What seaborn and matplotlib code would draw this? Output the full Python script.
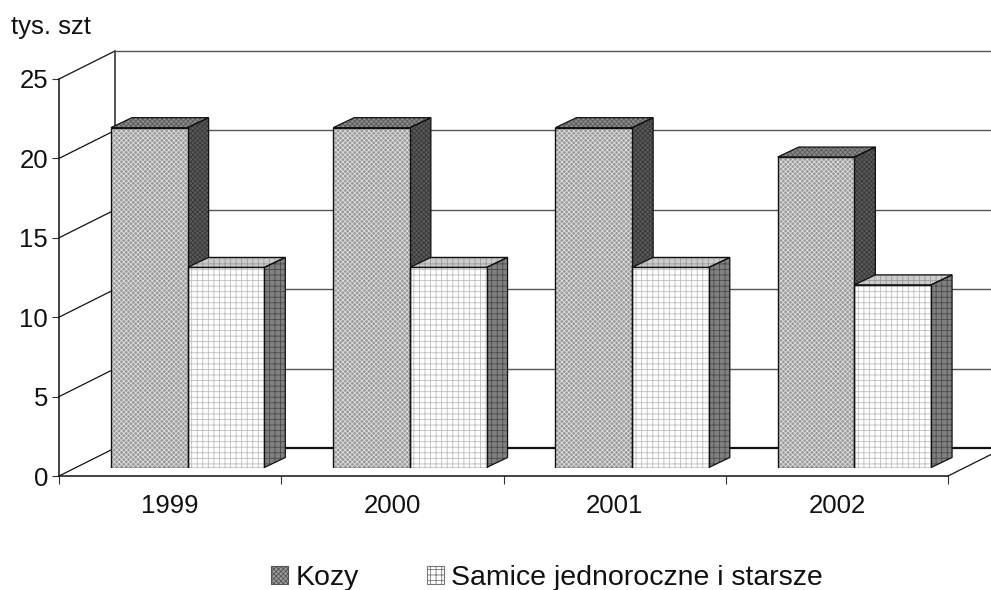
import numpy as np
import pandas as pd
import seaborn as sns
from matplotlib import pyplot as plt
from matplotlib.patches import Patch, Polygon, Rectangle
from matplotlib.transforms import IdentityTransform, ScaledTranslation

lata = ["1999", "2000", "2001", "2002"]
kozy = [21.4, 21.4, 21.4, 19.55]
samice = [12.6, 12.6, 12.6, 11.5]
y_ticks = [0, 5, 10, 15, 20, 25]
serie = ["Kozy", "Samice jednoroczne i starsze"]

W, H = 991, 590
DPI = 100

sns.set_theme(style="white")
plt.rcParams["font.family"] = ["Liberation Sans", "DejaVu Sans"]
plt.rcParams["hatch.linewidth"] = 0.6

table = pd.DataFrame({
    "rok": lata * 2,
    "wartosc": kozy + samice,
    "seria": [serie[0]] * 4 + [serie[1]] * 4,
})

fig = plt.figure(figsize=(W / DPI, H / DPI), dpi=DPI)
ax = fig.add_axes([59 / W, (H - 476) / H, 889 / W, 397 / H])
ax.set_xlim(-0.5, 3.5)
ax.set_ylim(0, 25)
pix = IdentityTransform()

# przednie krawedzie osi
for s in ["top", "right"]:
    ax.spines[s].set_visible(False)
for s in ["left", "bottom"]:
    ax.spines[s].set_linewidth(1.1)
    ax.spines[s].set_color("#111111")

ax.set_xticks(range(4))
ax.set_xticklabels(lata, fontsize=18.5, color="#111111")
ax.set_xticks(np.arange(-0.5, 4, 1), minor=True)
ax.set_yticks(y_ticks)
ax.set_yticklabels([str(v) for v in y_ticks], fontsize=18.5, color="#111111")
ax.tick_params(axis="x", which="major", length=0, pad=13)
ax.tick_params(axis="x", which="minor", length=5.5, width=0.8, color="#333333", bottom=True)
ax.tick_params(axis="y", length=5, width=0.8, color="#333333", left=True, pad=3)

# sciany: lewa, tylna, podloga
DX, DY = 56, 28
back = ax.transData + ScaledTranslation(DX / DPI, DY / DPI, fig.dpi_scale_trans)
for v in y_ticks:
    ax.plot([-0.5, 3.7], [v, v], transform=back, clip_on=False,
            color="#111111" if v == 0 else "#555555", lw=1.6 if v == 0 else 1.0,
            solid_capstyle="butt", zorder=1)
    start = ax.transData.transform((-0.5, v))
    ax.plot([start[0], start[0] + DX], [start[1], start[1] + DY], transform=pix,
            color="#111111", lw=0.9, clip_on=False, zorder=1)
ax.plot([-0.5, -0.5], [0, 25], transform=back, color="#444444", lw=1.3, clip_on=False, zorder=1)
corner = ax.transData.transform((3.5, 0))
ax.plot([corner[0], corner[0] + DX], [corner[1], corner[1] + DY], transform=pix,
        color="#111111", lw=0.9, clip_on=False, zorder=1)

# slupki w osobnym ukladzie, przesunietym w glab wykresu
ax_bars = fig.add_axes([(59 + 17.5) / W, (H - 476 + 8.5) / H, 889 / W, 397 / H])
ax_bars.patch.set_alpha(0)
sns.barplot(data=table, x="rok", y="wartosc", hue="seria", order=lata, hue_order=serie,
            palette=["#a8a8a8", "#ffffff"], width=0.69, gap=0, legend=False,
            saturation=1, ax=ax_bars)
ax_bars.set_xlim(-0.5, 3.5)
ax_bars.set_ylim(0, 25)
ax_bars.axis("off")

style = [
    dict(front="#9a9a9a", fh="#dcdcdc", h="xxxxxxx", top="#8a8a8a", th="#5a5a5a", side="#5a5a5a", sh="#383838", z=0.4),
    dict(front="#ffffff", fh="#bdbdbd", h="+++", top="#cccccc", th="#999999", side="#808080", sh="#4a4a4a", z=0.6),
]
BX, BY = 21, 10
for cont, st in zip(ax_bars.containers, style):
    for bar in cont:
        x0, w, h = bar.get_x(), bar.get_width(), bar.get_height()
        bar.set_facecolor(st["front"])
        bar.set_edgecolor(st["fh"])
        bar.set_hatch(st["h"])
        bar.set_linewidth(0)
        ax_bars.add_patch(Rectangle((x0, 0), w, h, fill=False, edgecolor="#111111", lw=1.0, zorder=5))
        # gorna i boczna sciana liczone z wierzcholkow slupka
        p = ax_bars.transData.transform([(x0, 0), (x0 + w, 0), (x0 + w, h), (x0, h)])
        side = [p[1], p[1] + (BX, BY), p[2] + (BX, BY), p[2]]
        top = [p[3], p[2], p[2] + (BX, BY), p[3] + (BX, BY)]
        for pts, col, hc in [(side, st["side"], st["sh"]), (top, st["top"], st["th"])]:
            ax_bars.add_patch(Polygon(pts, closed=True, transform=pix, facecolor=col,
                                      edgecolor=hc, hatch=st["h"], lw=0, clip_on=False, zorder=st["z"]))
            ax_bars.add_patch(Polygon(pts, closed=True, transform=pix, fill=False,
                                      edgecolor="#111111", lw=0.9, clip_on=False, zorder=st["z"] + 0.1))

fig.text(11 / W, 1 - 27 / H, "tys. szt", fontsize=18.5, va="center", color="#111111")

handles = [
    Patch(facecolor=style[0]["front"], edgecolor="#555555", hatch=style[0]["h"], lw=0.8),
    Patch(facecolor=style[1]["front"], edgecolor="#777777", hatch=style[1]["h"], lw=0.8),
]
fig.legend(handles, serie, ncol=2, loc="center", bbox_to_anchor=(547 / W, 1 - 578 / H),
           frameon=False, fontsize=20.5, handlelength=0.6, handleheight=0.6,
           handletextpad=0.25, columnspacing=2.4, labelcolor="#111111")

fig.savefig("out.png", dpi=DPI)
